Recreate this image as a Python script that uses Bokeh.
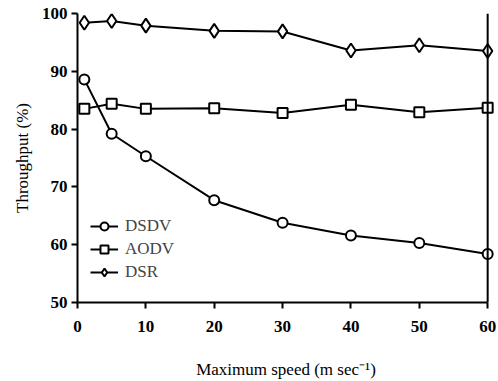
from bokeh.plotting import figure
from bokeh.models import Span, Legend, LegendItem, FixedTicker
from bokeh.embed import file_html
from bokeh.resources import INLINE

speed = [1, 5, 10, 20, 30, 40, 50, 60]
dsdv = [88.6, 79.2, 75.3, 67.7, 63.8, 61.6, 60.3, 58.4]
aodv = [83.5, 84.4, 83.5, 83.6, 82.8, 84.2, 82.9, 83.7]
dsr = [98.4, 98.7, 97.9, 97.0, 96.9, 93.6, 94.5, 93.5]
x_ticks = [0, 10, 20, 30, 40, 50, 60]
y_ticks = [50, 60, 70, 80, 90, 100]

FONT = "Liberation Serif"

p = figure(width=498, height=381, output_backend="svg", toolbar_location=None,
           x_range=(0, 61), y_range=(50, 100),
           min_border_left=77, min_border_right=4, min_border_top=13, min_border_bottom=78)
p.outline_line_color = None
p.xgrid.visible = False
p.ygrid.visible = False

for ax in (p.xaxis[0], p.yaxis[0]):
    ax.axis_line_width = 2
    ax.axis_line_color = "black"
    ax.major_tick_line_width = 2
    ax.major_tick_line_color = "black"
    ax.major_tick_out = 6
    ax.major_tick_in = 0
    ax.minor_tick_line_color = None
    ax.major_label_text_font = FONT
    ax.major_label_text_font_size = "17px"
    ax.major_label_text_font_style = "bold"
    ax.major_label_text_color = "black"
    ax.axis_label_text_font = FONT
    ax.axis_label_text_font_size = "17px"
    ax.axis_label_text_font_style = "normal"
    ax.axis_label_text_color = "black"

p.xaxis.ticker = FixedTicker(ticks=x_ticks)
p.yaxis.ticker = FixedTicker(ticks=y_ticks)
p.xaxis.bounds = (0, 60)
p.yaxis.bounds = (50, 100)
p.xaxis.axis_label = "Maximum speed (m sec\u207b\u00b9)"
p.yaxis.axis_label = "Throughput (%)"
p.xaxis.major_label_standoff = 12
p.xaxis.axis_label_standoff = 25
p.yaxis.major_label_standoff = 4
p.yaxis.axis_label_standoff = 7

p.add_layout(Span(location=60, dimension="height", line_color="black", line_width=2))

l1 = p.line(speed, dsdv, line_color="black", line_width=2)
m1 = p.scatter(speed, dsdv, marker="circle", size=10, fill_color="white", line_color="black", line_width=2)
l2 = p.line(speed, aodv, line_color="black", line_width=2)
m2 = p.scatter(speed, aodv, marker="square", size=10, fill_color="white", line_color="black", line_width=2)
l3 = p.line(speed, dsr, line_color="black", line_width=2)
m3 = p.scatter(speed, dsr, marker="diamond", size=14, fill_color="white", line_color="black", line_width=2)

legend = Legend(items=[LegendItem(label="DSDV", renderers=[l1, m1]),
                       LegendItem(label="AODV", renderers=[l2, m2]),
                       LegendItem(label="DSR", renderers=[l3, m3])],
                location=(13, 20), padding=0, margin=0, spacing=3,
                glyph_width=28, glyph_height=20, label_standoff=7,
                label_text_font=FONT, label_text_font_size="17px",
                border_line_alpha=0, background_fill_alpha=0)
p.add_layout(legend)

open("out.html", "w").write(file_html(p, INLINE))
